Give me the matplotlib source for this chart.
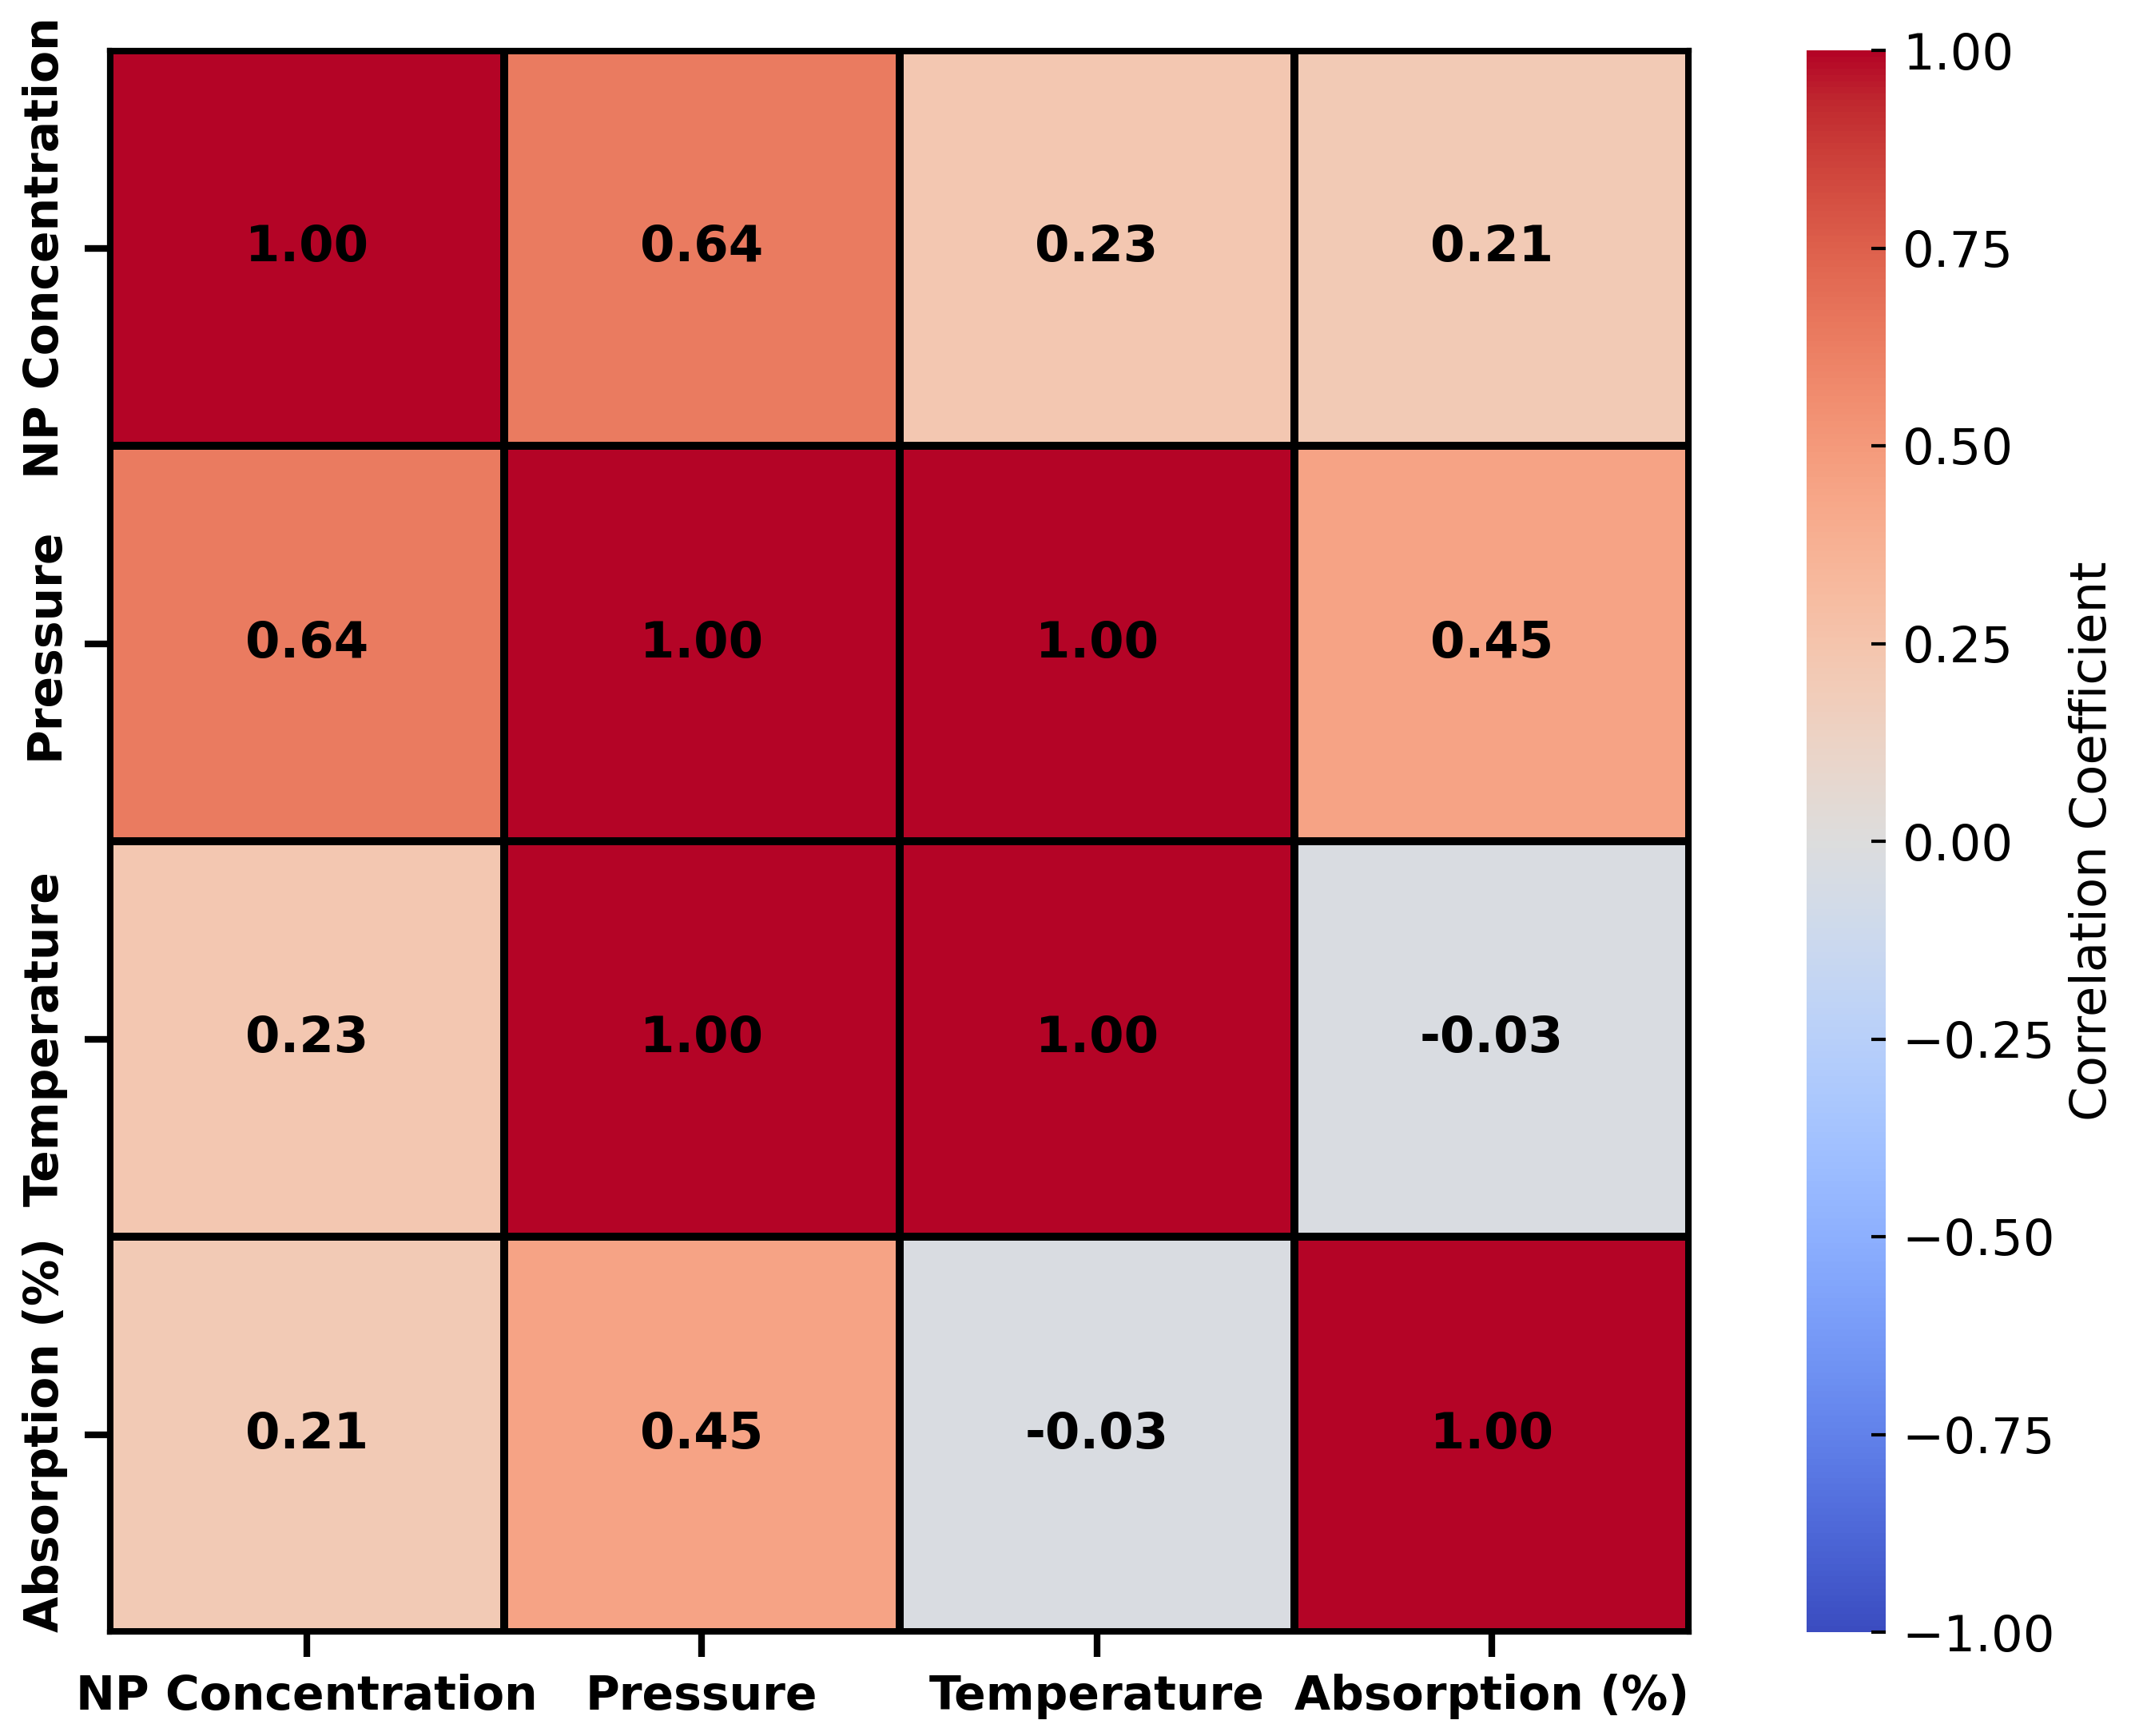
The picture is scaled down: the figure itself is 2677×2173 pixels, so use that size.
import numpy as np
import matplotlib
matplotlib.use("Agg")
import matplotlib.pyplot as plt
import seaborn as sns

# variables and correlation matrix
labels = ["NP Concentration", "Pressure", "Temperature", "Absorption (%)"]
row_np = [1.00, 0.64, 0.23, 0.21]
row_pressure = [0.64, 1.00, 1.00, 0.45]
row_temp = [0.23, 1.00, 1.00, -0.03]
row_abs = [0.21, 0.45, -0.03, 1.00]
cbar_ticks = [-1, -0.75, -0.5, -0.25, 0, 0.25, 0.5, 0.75, 1]

corr = np.array([row_np, row_pressure, row_temp, row_abs])

W, H, DPI = 2677, 2173, 300
fig = plt.figure(figsize=(W / DPI, H / DPI), dpi=DPI)

left, right, top, bottom = 137, 2114, 63, 2043
ax = fig.add_axes([left / W, 1 - bottom / H, (right - left) / W, (bottom - top) / H])
cax = fig.add_axes([2261 / W, 1 - bottom / H, 99 / W, (bottom - top) / H])

sns.heatmap(corr, ax=ax, cbar_ax=cax, cmap="coolwarm", vmin=-1, vmax=1,
            annot=True, fmt=".2f",
            annot_kws={"fontsize": 15, "fontweight": "bold", "color": "black"},
            linewidths=2, linecolor="black",
            xticklabels=labels, yticklabels=labels,
            cbar_kws={"label": "Correlation Coefficient", "ticks": cbar_ticks})

# heatmap ticks
ax.tick_params(axis="both", length=7.5, width=2, labelsize=14, pad=5)
for t in ax.get_xticklabels():
    t.set_fontweight("bold")
    t.set_rotation(0)
for t in ax.get_yticklabels():
    t.set_fontweight("bold")
    t.set_rotation(90)
    t.set_va("center")
for s in ax.spines.values():
    s.set_visible(True)
    s.set_linewidth(1.5)
    s.set_color("black")

# colorbar
cax.tick_params(direction="in", length=4.3, width=1, labelsize=15, pad=5)
cax.set_yticklabels([f"{v:.2f}".replace("-", "\u2212") for v in cbar_ticks])
cax.yaxis.label.set_size(15)
cax.yaxis.labelpad = 4

fig.savefig("out.png", dpi=DPI)
